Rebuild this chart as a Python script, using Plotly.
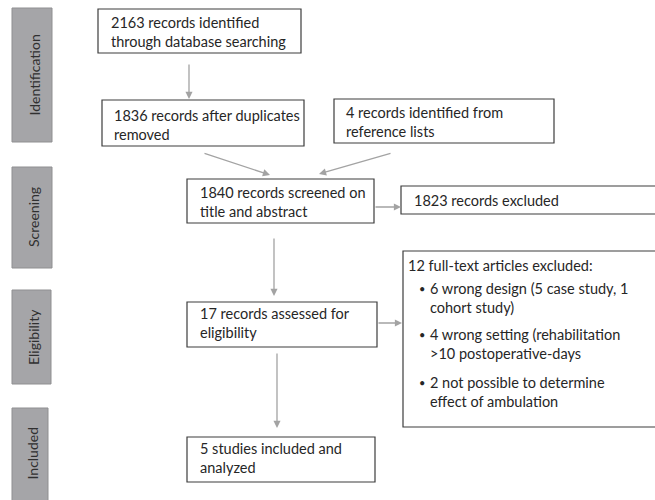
import plotly.graph_objects as go

# ---- content ----
stage_labels = ["Identification", "Screening", "Eligibility", "Included"]

box_texts = {
    "db": ["2163 records identified", "through database searching"],
    "dedup": ["1836 records after duplicates", "removed"],
    "refs": ["4 records identified from", "reference lists"],
    "screen": ["1840 records screened on", "title and abstract"],
    "excl1": ["1823 records excluded"],
    "elig": ["17 records assessed for", "eligibility"],
    "incl": ["5 studies included and", "analyzed"],
}
excl2_header = "12 full-text articles excluded:"
excl2_bullets = [
    ["6 wrong design (5 case study, 1", "cohort study)"],
    ["4 wrong setting (rehabilitation", ">10 postoperative-days"],
    ["2 not possible to determine", "effect of ambulation"],
]

# ---- geometry (pixel layout) ----
W, H = 655, 500
stage_geom = [(12, 52, 8, 142), (12, 52, 167, 268), (12, 51, 290, 384), (12, 48, 408, 505)]
stage_text_y = [75, 217.5, 337, 453]
box_geom = {
    "db": (98, 301, 9, 53),
    "dedup": (102, 304, 100, 146),
    "refs": (334, 554, 99, 143),
    "screen": (187, 374, 179, 223),
    "excl1": (401, 670, 186, 214),
    "elig": (187, 377, 302, 347),
    "incl": (187, 375, 437, 482),
}
text_pos = {  # left x, centre y of text block
    "db": (109, 31.5),
    "dedup": (112, 125),
    "refs": (344, 121.5),
    "screen": (198, 201.5),
    "excl1": (412, 200.5),
    "elig": (198, 323),
    "incl": (198, 458),
}
excl2_geom = (403, 670, 251, 427)
arrows = [  # (tail x, tail y, tip x, tip y)
    (189, 63, 189, 99),
    (203, 153, 270, 175),
    (392, 153, 319, 174),
    (374, 207, 401, 207),
    (274, 237, 274, 296),
    (377, 323, 402, 323),
    (277, 352, 277, 428),
]

FONT = "Lato"
FS = 14.5
TXT = "#262626"
BORDER = "#3c3c3c"
ARROW = "#a3a3a3"

fig = go.Figure()
shapes = []
annotations = []

for (x0, x1, y0, y1), lab, ty in zip(stage_geom, stage_labels, stage_text_y):
    shapes.append(dict(type="rect", xref="x", yref="y", x0=x0, x1=x1, y0=y0, y1=y1,
                       fillcolor="#a5a5a8", line=dict(color="#8f8f91", width=1)))
    annotations.append(dict(x=(x0 + x1) / 2 + 1.5, y=ty,
                            xref="x", yref="y", text=lab, showarrow=False, textangle=-90,
                            font=dict(family=FONT, size=14, color="#303030"),
                            xanchor="center", yanchor="middle"))

for key, (x0, x1, y0, y1) in box_geom.items():
    shapes.append(dict(type="rect", xref="x", yref="y", x0=x0, x1=x1, y0=y0, y1=y1,
                       fillcolor="white", line=dict(color=BORDER, width=1.2)))
    lx, cy = text_pos[key]
    annotations.append(dict(x=lx, y=cy, xref="x", yref="y", text="<br>".join(box_texts[key]),
                            showarrow=False, align="left",
                            font=dict(family=FONT, size=FS, color=TXT),
                            xanchor="left", yanchor="middle"))

x0, x1, y0, y1 = excl2_geom
shapes.append(dict(type="rect", xref="x", yref="y", x0=x0, x1=x1, y0=y0, y1=y1,
                   fillcolor="white", line=dict(color=BORDER, width=1.2)))
annotations.append(dict(x=406, y=265, xref="x", yref="y", text=excl2_header, showarrow=False,
                        font=dict(family=FONT, size=FS, color=TXT), xanchor="left", yanchor="middle"))
bullet_ys = [288, 334, 382]
for lines, y_first in zip(excl2_bullets, bullet_ys):
    annotations.append(dict(x=422, y=y_first, xref="x", yref="y", text="•", showarrow=False,
                            font=dict(family=FONT, size=11, color=TXT), xanchor="center", yanchor="middle"))
    annotations.append(dict(x=428, y=y_first + 9.5, xref="x", yref="y", text="<br>".join(lines),
                            showarrow=False, align="left",
                            font=dict(family=FONT, size=FS, color=TXT),
                            xanchor="left", yanchor="middle"))

for (ax_, ay_, tx, ty) in arrows:
    annotations.append(dict(x=tx, y=ty, ax=ax_, ay=ay_, xref="x", yref="y", axref="x", ayref="y",
                            text="", showarrow=True, arrowhead=2, arrowsize=1.1, arrowwidth=1.3,
                            arrowcolor=ARROW, standoff=0, startstandoff=0))

fig.update_layout(
    width=W, height=H, margin=dict(l=0, r=0, t=0, b=0),
    paper_bgcolor="white", plot_bgcolor="white",
    xaxis=dict(range=[0, W], visible=False, fixedrange=True),
    yaxis=dict(range=[H, 0], visible=False, fixedrange=True),
    shapes=shapes, annotations=annotations, showlegend=False,
)
fig.write_html("out.html", config={"displayModeBar": False},
               post_script="document.body.style.margin='0';document.body.style.overflow='hidden';")
